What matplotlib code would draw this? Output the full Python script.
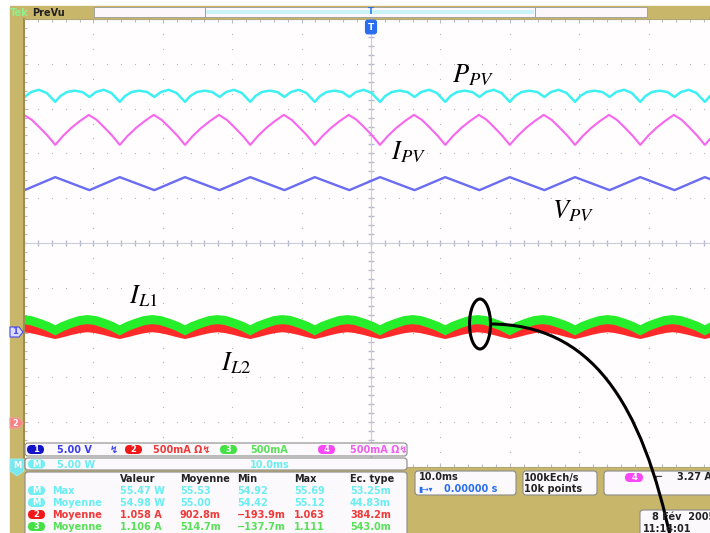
import matplotlib.pyplot as plt
from matplotlib.patches import Rectangle, FancyBboxPatch, Ellipse, PathPatch, Polygon
from matplotlib.path import Path

plt.rcParams['mathtext.fontset'] = 'stix'

# --- traces (time in ms, amplitude in divisions) ---
# instants of the I_PV cusps (minima)
cusp_t = [-54.9, -45.5, -36.2, -26.8, -17.4, -8.1, 1.3, 10.7, 20.0, 29.4, 38.8, 48.1, 57.5]

# one period of every trace, phase 0..1 between two cusps
ppv_phase = [0, 0.08, 0.18, 0.30, 0.42, 0.53, 0.63, 0.75, 0.87, 1]
ppv_div = [3.15, 3.28, 3.37, 3.40, 3.37, 3.26, 3.37, 3.42, 3.35, 3.15]
ipv_phase = [0, 0.12, 0.25, 0.38, 0.52, 0.64, 0.76, 0.88, 1]
ipv_div = [2.19, 2.39, 2.57, 2.72, 2.86, 2.75, 2.58, 2.40, 2.19]
vpv_phase = [0, 0.53, 1]
vpv_div = [1.47, 1.18, 1.47]
il_phase = [0, 0.12, 0.25, 0.38, 0.50, 0.62, 0.75, 0.88, 1]
il1_div = [-1.95, -1.86, -1.79, -1.73, -1.71, -1.73, -1.79, -1.86, -1.95]
il2_div = [-2.04, -2.00, -1.95, -1.91, -1.89, -1.91, -1.95, -2.00, -2.04]

# --- scope read-outs ---
chan_nums = ['1', '2', '3', '4']
chan_scale = ['5.00 V', '500mA \u03a9\u21af', '500mA', '500mA \u03a9\u21af']
meas_head = ['Valeur', 'Moyenne', 'Min', 'Max', 'Ec. type']
meas_src = ['M', 'M', '2', '3']
meas_name = ['Max', 'Moyenne', 'Moyenne', 'Moyenne']
meas_vals = [['55.47 W', '55.53', '54.92', '55.69', '53.25m'],
             ['54.98 W', '55.00', '54.42', '55.12', '44.83m'],
             ['1.058 A', '902.8m', '\u2212193.9m', '1.063', '384.2m'],
             ['1.106 A', '514.7m', '\u2212137.7m', '1.111', '543.0m']]

KHAKI = '#c8b66a'
C_CYAN, C_MAG, C_BLUE = '#3ff0f2', '#f766ee', '#6a6cf2'
C_GREEN, C_RED = '#27ee2a', '#ff2b2b'
T_BLUE, T_RED, T_GREEN, T_MAG, T_CYAN = '#3a3ef0', '#f03a3a', '#58e058', '#f05ef0', '#6aeef2'
FONT = dict(family='DejaVu Sans', fontweight='bold', fontsize=7)


def build(phase, vals):
    t, v = [], []
    for a, b in zip(cusp_t[:-1], cusp_t[1:]):
        for p, val in zip(phase[:-1], vals[:-1]):
            t.append(a + p * (b - a))
            v.append(val)
    t.append(cusp_t[-1])
    v.append(vals[-1])
    return t, v


fig = plt.figure(figsize=(7.1, 5.33), dpi=100, facecolor='white')
W, H = 710, 533

# background layer (pixel coordinates)
bg = fig.add_axes([0, 0, 1, 1], zorder=0)
bg.set_xlim(0, W)
bg.set_ylim(H, 0)
bg.axis('off')
bg.add_patch(Rectangle((10, 6), W, H, color=KHAKI))
bg.add_patch(Rectangle((94, 7), 111, 10, fc='#fdf7fb', ec='#9a9a9a', lw=0.6))
bg.add_patch(Rectangle((205, 7), 330, 10, fc='#fdf7fb', ec='#9a9a9a', lw=0.6))
bg.add_patch(Rectangle((206, 10), 328, 4, fc='#c9f5f8', ec='none'))
bg.add_patch(Rectangle((535, 7), 112, 10, fc='#fdf7fb', ec='#9a9a9a', lw=0.6))
bg.text(10, 12.5, 'Tek', color='#8ef08e', va='center', **FONT)
bg.text(32, 12.5, 'PreVu', color='#222222', va='center', **FONT)

# scope screen: 10 ms/div, 10 vertical divisions
sc = fig.add_axes([24 / W, 1 - 467 / H, 694 / W, 448 / H], zorder=1)
sc.set_facecolor('#fffdfe')
sc.set_xlim(-50, 50)
sc.set_ylim(-5, 5)
sc.set_xticks(range(-50, 51, 10))
sc.set_yticks(range(-5, 6))
sc.set_xticks([x * 2 for x in range(-25, 26)], minor=True)
sc.set_yticks([y / 5 for y in range(-25, 26)], minor=True)
sc.tick_params(which='both', direction='in', top=True, right=True,
               labelbottom=False, labelleft=False, color='#b9b9c4', width=0.8)
sc.tick_params(which='major', length=3)
sc.tick_params(which='minor', length=2)
for s in ['top', 'right', 'bottom']:
    sc.spines[s].set_color('#b0a878')
    sc.spines[s].set_linewidth(0.8)
sc.spines['left'].set_color('#a08c50')
sc.spines['left'].set_linewidth(1.5)

# dotted graticule
for gx in range(-40, 41, 10):
    if gx != 0:
        sc.scatter([gx] * 31, [y / 3 for y in range(-15, 16)], s=0.8, color='#b4b4b4', lw=0)
for gy in range(-4, 5):
    if gy != 0:
        sc.scatter([x * 2 for x in range(-25, 26)], [gy] * 51, s=0.8, color='#b4b4b4', lw=0)
sc.axhline(0, color='#c9cbd8', lw=0.8)
sc.axvline(0, color='#c9cbd8', lw=0.8)
sc.scatter([0] * 51, [y / 5 for y in range(-25, 26)], marker='_', s=14, color='#b6b9cc', lw=1)
sc.scatter([x * 2 for x in range(-25, 26)], [0] * 51, marker='|', s=14, color='#b6b9cc', lw=1)

t, v = build(ppv_phase, ppv_div)
sc.plot(t, v, color=C_CYAN, lw=1.8)
t, v = build(ipv_phase, ipv_div)
sc.plot(t, v, color=C_MAG, lw=1.5)
t, v = build(vpv_phase, vpv_div)
sc.plot(t, v, color=C_BLUE, lw=1.7)
t, v = build(il_phase, il2_div)
sc.plot(t, v, color=C_RED, lw=6.5, solid_joinstyle='miter')
t, v = build(il_phase, il1_div)
sc.plot(t, v, color=C_GREEN, lw=6.5, solid_joinstyle='miter')

# overlay layer (pixel coordinates)
ov = fig.add_axes([0, 0, 1, 1], zorder=2)
ov.set_xlim(0, W)
ov.set_ylim(H, 0)
ov.axis('off')
ov.patch.set_alpha(0)

# trace labels
lab = dict(fontsize=19, color='black', va='baseline', ha='left')
ov.text(452, 82, r'$P_{PV}$', **lab)
ov.text(391, 159, r'$I_{PV}$', **lab)
ov.text(552, 218, r'$V_{PV}$', **lab)
ov.text(129, 303, r'$I_{\mathit{L1}}$', **lab)
ov.text(221, 370, r'$I_{\mathit{L2}}$', **lab)

# trigger marker
ov.text(371, 12, 'T', color='#2a6ef0', ha='center', va='center', fontsize=6, fontweight='bold')
ov.text(371, 27, 'T', color='white', ha='center', va='center', fontsize=6.5, fontweight='bold',
        bbox=dict(boxstyle='round,pad=0.25', fc='#2a6ef0', ec='#2a6ef0'))

# channel ground markers
ov.add_patch(Polygon([(10, 327), (19, 327), (23, 332), (19, 337), (10, 337)],
                     fc='#dcdcff', ec='#4a4af0', lw=0.8))
ov.text(15, 332, '1', color='#4a4af0', ha='center', va='center', fontsize=6, fontweight='bold')
ov.add_patch(Polygon([(10, 418), (19, 418), (23, 423), (19, 428), (10, 428)],
                     fc='#f88080', ec='#f0a0a0', lw=0.8))
ov.text(15, 423, '2', color='white', ha='center', va='center', fontsize=6, fontweight='bold')
ov.add_patch(Polygon([(10, 459), (24, 459), (24, 471), (17, 476), (10, 471)],
                     fc='#78e8ee', ec='#9cf0f0', lw=0.6))
ov.text(17, 466, 'M', color='white', ha='center', va='center', fontsize=6, fontweight='bold')


def pill(x, y, txt, fc):
    ov.add_patch(FancyBboxPatch((x, y - 4.5), 17, 9, boxstyle='round,pad=0,rounding_size=4.5',
                                fc=fc, ec='none'))
    ov.text(x + 8.5, y + 0.3, txt, color='white', ha='center', va='center',
            fontsize=6, fontweight='bold')


# channel scale strip
box = dict(boxstyle='round,pad=0,rounding_size=3', fc='#fbf9fc', ec='#8a8a8a', lw=0.8)
ov.add_patch(FancyBboxPatch((25, 443), 382, 13, **box))
ov.add_patch(FancyBboxPatch((25, 458), 382, 12, **box))
ov.add_patch(FancyBboxPatch((25, 472), 382, 70, **box))
pill_x = [27, 125, 220, 318]
text_x = [57, 153, 250, 350]
fills = ['#1414c8', '#f01818', '#44e044', '#f848f8']
tcols = [T_BLUE, T_RED, T_GREEN, T_MAG]
for n, sc_txt, px, tx, fc, tc in zip(chan_nums, chan_scale, pill_x, text_x, fills, tcols):
    pill(px, 449.5, n, fc)
    ov.text(tx, 450, sc_txt, color=tc, va='center', **FONT)
ov.text(110, 450, '\u21af', color=T_BLUE, va='center', **FONT)
pill(28, 464, 'M', '#70eef2')
ov.text(57, 464.5, '5.00 W', color=T_CYAN, va='center', **FONT)
ov.text(250, 464.5, '10.0ms', color=T_CYAN, va='center', **FONT)

# measurement table
col_x = [120, 180, 237, 294, 350]
row_y = [490.5, 502.5, 514.5, 526.5]
row_col = [T_CYAN, T_CYAN, T_RED, T_GREEN]
pill_fc = ['#70eef2', '#70eef2', '#f01818', '#44e044']
for hx, h in zip(col_x, meas_head):
    ov.text(hx, 479, h, color='#222222', va='center', **FONT)
for ry, src, name, vals, rc, pf in zip(row_y, meas_src, meas_name, meas_vals, row_col, pill_fc):
    pill(28, ry, src, pf)
    ov.text(52, ry + 0.5, name, color=rc, va='center', **FONT)
    for cx, val in zip(col_x, vals):
        ov.text(cx, ry + 0.5, val, color=rc, va='center', **FONT)

# right hand read-outs
rbox = dict(boxstyle='round,pad=0,rounding_size=3', fc='#fbf9fc', ec='#8a8a8a', lw=0.8)
ov.add_patch(FancyBboxPatch((415, 471), 101, 24, **rbox))
ov.add_patch(FancyBboxPatch((523, 471), 74, 24, **rbox))
ov.add_patch(FancyBboxPatch((604, 471), 120, 24, **rbox))
ov.add_patch(FancyBboxPatch((640, 510), 90, 30, **rbox))
ov.text(419, 477.5, '10.0ms', color='#222222', va='center', **FONT)
ov.text(418, 489.5, '\u25ae\u2192\u25be', color='#2a6ef0', va='center', family='DejaVu Sans',
        fontsize=5.5)
ov.text(444, 489.5, '0.00000 s', color='#2a6ef0', va='center', **FONT)
ov.text(524, 477.5, '100kEch/s', color='#222222', va='center', **FONT)
ov.text(524, 489.5, '10k points', color='#222222', va='center', **FONT)
ov.add_patch(FancyBboxPatch((625, 473), 18, 9, boxstyle='round,pad=0,rounding_size=4.5',
                            fc='#f848f8', ec='none'))
ov.text(634, 477.8, '4', color='white', ha='center', va='center', fontsize=6, fontweight='bold')
ov.text(655, 477.5, '\u2310', color='#444444', va='center', **FONT)
ov.text(677, 477.5, '3.27 A', color='#222222', va='center', **FONT)
ov.text(652, 517, '8 F\u00e9v  2005', color='#222222', va='center', **FONT)
ov.text(643, 528.5, '11:14:01', color='#222222', va='center', **FONT)

# annotation: ellipse on the inductor currents and leader curve
ov.add_patch(Ellipse((480, 324), 21, 50, fill=False, ec='black', lw=2.2))
lead = Path([(490, 324), (590, 324), (642, 400), (672, 545)],
            [Path.MOVETO, Path.CURVE4, Path.CURVE4, Path.CURVE4])
ov.add_patch(PathPatch(lead, fill=False, ec='black', lw=2.2))

fig.savefig('out.png', dpi=100)
